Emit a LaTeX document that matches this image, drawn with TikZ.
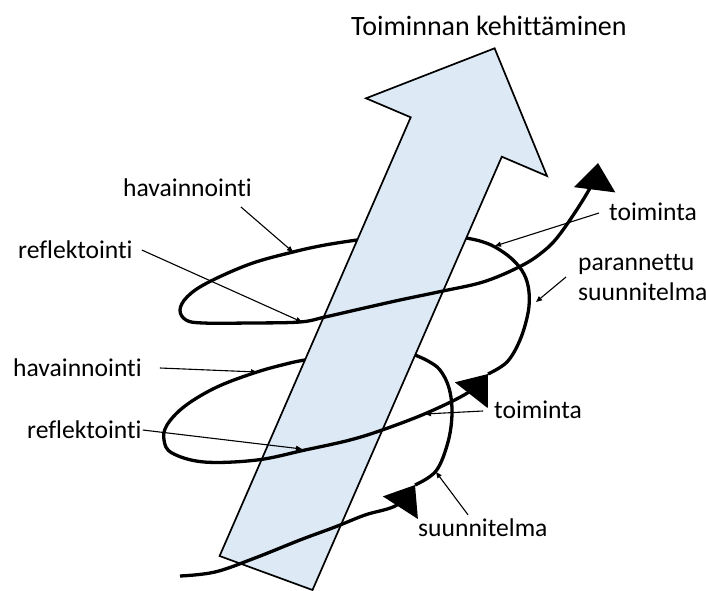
\documentclass[tikz,border=0pt]{standalone}
\usepackage{fontspec}
\setmainfont{Carlito}[Ligatures=NoCommon]
\usetikzlibrary{arrows.meta}
\definecolor{arrowfill}{RGB}{221,234,246}
\begin{document}
\begin{tikzpicture}[x=1pt,y=-1pt,
  spiral/.style={line width=3.3pt, line join=round},
  spiraltip/.style={spiral, -{Triangle[length=27pt,width=41pt]}},
  pointer/.style={line width=1.1pt, -{Triangle[length=6pt,width=5pt]}},
  lbl/.style={font=\fontsize{25.6}{30}\selectfont, inner sep=0pt, anchor=west, align=left},
  bigarrow/.style={draw=black, line width=1.7pt, fill=arrowfill, line join=miter}]
\useasboundingbox (0,0) rectangle (706,591);
% big arrow
\draw[bigarrow] (219.6,556) -- (410.7,117.3) -- (366,98.3) -- (494.6,48.3)
   -- (547,176) -- (501.8,156.7) -- (312.5,590) -- cycle;
% spiral
\draw[spiraltip] plot[smooth, tension=0.6] coordinates {(180,576) (215,572) (255,558) (300,540) (335,527) (365,515) (397,505) (415,485)};
\draw[spiral] plot[smooth, tension=0.6] coordinates {(415,485) (436,471) (448,442) (452,413) (449,388) (440,370) (428,361) (415,355)};
\draw[spiraltip] plot[smooth, tension=0.6] coordinates {(305,360) (290,363) (257,372) (217,387) (185,406) (167,425) (164,440) (172,453) (204,462) (257,460) (305,450) (350,440) (385,429) (429,412) (469,392) (488,374)};
\draw[spiral] plot[smooth, tension=0.6] coordinates {(488,374) (507,362) (520,340) (528,313) (529,292) (524,274) (512,259) (495,247) (480,241) (466,238)};
\draw[spiraltip] plot[smooth, tension=0.6] coordinates {(357,240) (325,245) (293,252) (250,264) (207,283) (187,297) (180,310) (186,320) (203,323) (250,323) (300,322) (325,317) (360,309) (400,300) (443,291) (483,282) (517,268) (540,254) (560,234) (590,188) (598,163)};
% labels
\node[lbl, font=\fontsize{28}{32}\selectfont] (title) at (351,26) {Toiminnan kehittäminen};
\node[lbl] (hav1) at (123,188) {havainnointi};
\node[lbl] (ref1) at (18,250) {reflektointi};
\node[lbl] (hav2) at (13,368) {havainnointi};
\node[lbl] (ref2) at (27,430) {reflektointi};
\node[lbl] (toi1) at (609,212) {toiminta};
\node[lbl] (par) at (578,277) {parannettu\\suunnitelma};
\node[lbl] (toi2) at (494,410) {toiminta};
\node[lbl] (suu) at (418,528) {suunnitelma};
% pointer ends
\coordinate (e1) at (293,252);
\coordinate (e2) at (302,322);
\coordinate (e3) at (257,372);
\coordinate (e4) at (302,449);
\coordinate (e5) at (495,246);
\coordinate (e6) at (536,302);
\coordinate (e7) at (425,414);
\coordinate (e8) at (436,472);
\draw[pointer] ([shift={(-11,19)}]hav1.east) -- (e1);
\draw[pointer] ([shift={(9,0)}]ref1.east) -- (e2);
\draw[pointer] ([shift={(18,0)}]hav2.east) -- (e3);
\draw[pointer] ([shift={(1,0)}]ref2.east) -- (e4);
\draw[pointer] ([shift={(-10,1)}]toi1.west) -- (e5);
\draw[pointer] ([shift={(-12,0)}]par.west) -- (e6);
\draw[pointer] ([shift={(-11,1)}]toi2.west) -- (e7);
\draw[pointer] ([shift={(50,-4)}]suu.north west) -- (e8);
\end{tikzpicture}
\end{document}
